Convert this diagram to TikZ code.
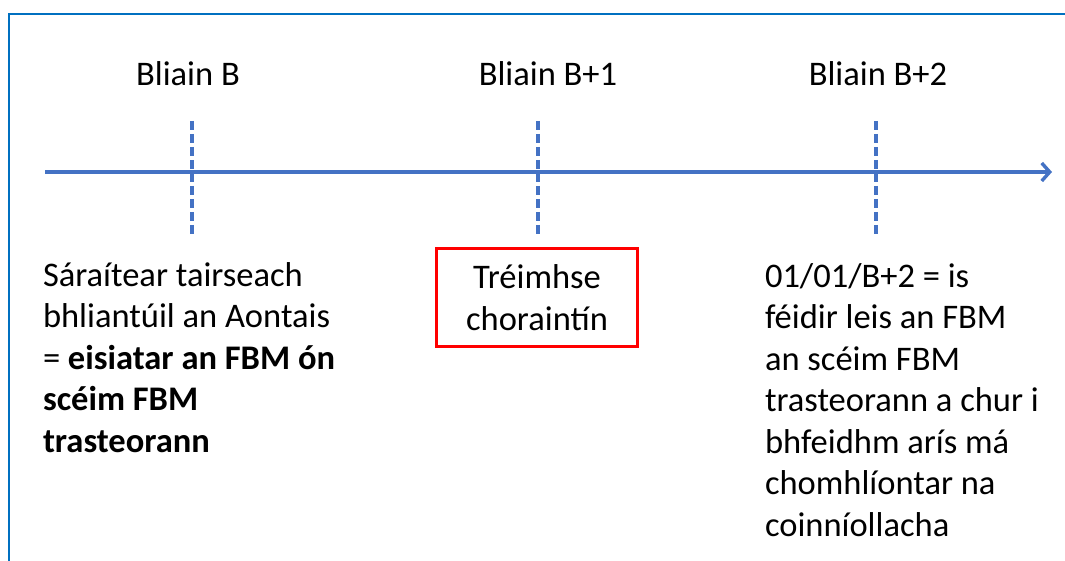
\documentclass[tikz,border=0pt]{standalone}
\usepackage{fontspec}
\setmainfont{Carlito}
\usetikzlibrary{arrows.meta}
\definecolor{axisblue}{HTML}{4472C4}
\definecolor{frameblue}{HTML}{0070C0}
\definecolor{boxred}{HTML}{FF0000}
\tikzset{
  every node/.style={inner sep=0pt, outer sep=0pt},
  txt/.style={font=\fontsize{34.5}{41.5}\selectfont, text=black},
  yearlbl/.style={txt, anchor=base},
  bodytxt/.style={txt, align=left, anchor=base west},
  axisline/.style={draw=axisblue, line width=3.4pt, -{Straight Barb[length=8pt,width=18pt,line width=3.4pt]}},
  tick/.style={draw=axisblue, line width=3.6pt, dash pattern=on 9pt off 4pt},
  redbox/.style={draw=boxred, line width=3pt, minimum width=201pt, minimum height=98pt, align=center, txt},
  framel/.style={draw=frameblue, line width=2.2pt}
}
\begin{document}
\begin{tikzpicture}[x=1pt,y=-1pt]
\useasboundingbox (0,0) rectangle (1065,561);
% frame
\coordinate (fbl) at (9,562);
\coordinate (ftl) at (9,14);
\coordinate (ftr) at (1066,14);
\draw[framel] (fbl) -- (ftl) -- (ftr);
% axis
\coordinate (a0) at (45,172);
\coordinate (a1) at (1052,172);
\draw[axisline] (a0) -- (a1);
% ticks
\coordinate (t1a) at (192,121); \coordinate (t1b) at (192,234);
\coordinate (t2a) at (538,121); \coordinate (t2b) at (538,234);
\coordinate (t3a) at (876,121); \coordinate (t3b) at (876,234);
\draw[tick] (t1a) -- (t1b);
\draw[tick] (t2a) -- (t2b);
\draw[tick] (t3a) -- (t3b);
% year labels
\node[yearlbl] (y1) at (188,86) {Bliain B};
\node[yearlbl] (y2) at (548,86) {Bliain B+1};
\node[yearlbl] (y3) at (878,86) {Bliain B+2};
% texts
\node[bodytxt] (left) at (43,452) {Sáraítear tairseach\\bhliantúil an Aontais\\= \textbf{eisiatar an FBM ón}\\\textbf{scéim FBM}\\\textbf{trasteorann}};
\node[redbox] (box) at (537,297.5) {Tréimhse\\choraintín};
\node[bodytxt] (right) at (765,536) {01/01/B+2 = is\\féidir leis an FBM\\an scéim FBM\\trasteorann a chur i\\bhfeidhm arís má\\chomhlíontar na\\coinníollacha};
\end{tikzpicture}
\end{document}
